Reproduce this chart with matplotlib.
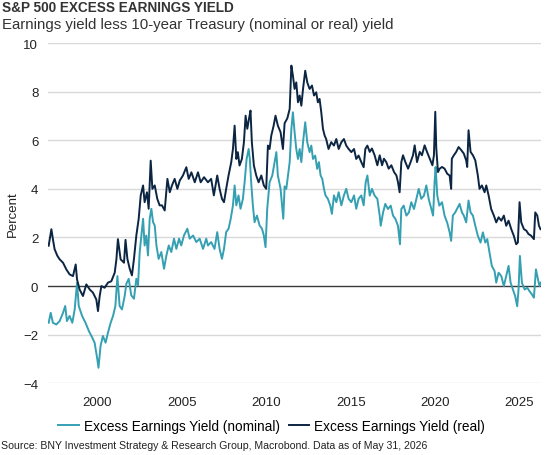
import matplotlib
matplotlib.use("Agg")
import matplotlib.pyplot as plt

plt.rcParams['font.family'] = ['Liberation Sans', 'DejaVu Sans']

# values (year, percent)
real_t = [1997.12, 1997.28, 1997.37, 1997.47, 1997.63, 1997.77, 1997.97, 1998.17, 1998.36, 1998.56,
          1998.72, 1998.80, 1998.95, 1999.15, 1999.35, 1999.55, 1999.74, 1999.94, 2000.04, 2000.14,
          2000.24, 2000.43, 2000.63, 2000.83, 2001.03, 2001.13, 2001.22, 2001.38, 2001.58, 2001.67,
          2001.78, 2001.92, 2002.05, 2002.17, 2002.31, 2002.45, 2002.57, 2002.71, 2002.80, 2002.94,
          2003.04, 2003.16, 2003.26, 2003.40, 2003.55, 2003.69, 2003.83, 2003.99, 2004.15, 2004.29,
          2004.42, 2004.58, 2004.74, 2004.88, 2005.07, 2005.27, 2005.41, 2005.57, 2005.77, 2005.96,
          2006.12, 2006.32, 2006.55, 2006.74, 2006.90, 2007.10, 2007.24, 2007.38, 2007.50, 2007.63,
          2007.77, 2007.93, 2008.03, 2008.13, 2008.23, 2008.32, 2008.42, 2008.56, 2008.68, 2008.78,
          2008.88, 2008.98, 2009.07, 2009.15, 2009.27, 2009.41, 2009.55, 2009.71, 2009.86, 2010.00,
          2010.10, 2010.20, 2010.30, 2010.44, 2010.55, 2010.69, 2010.85, 2010.99, 2011.09, 2011.25,
          2011.39, 2011.49, 2011.58, 2011.68, 2011.78, 2011.88, 2011.98, 2012.08, 2012.18, 2012.31,
          2012.43, 2012.57, 2012.71, 2012.83, 2012.96, 2013.06, 2013.16, 2013.26, 2013.36, 2013.46,
          2013.55, 2013.69, 2013.85, 2014.01, 2014.15, 2014.29, 2014.45, 2014.60, 2014.74, 2014.88,
          2015.04, 2015.20, 2015.33, 2015.47, 2015.63, 2015.77, 2015.87, 2015.99, 2016.13, 2016.26,
          2016.42, 2016.58, 2016.72, 2016.86, 2016.97, 2017.11, 2017.25, 2017.41, 2017.57, 2017.71,
          2017.80, 2017.90, 2018.00, 2018.10, 2018.24, 2018.40, 2018.55, 2018.69, 2018.79, 2018.93,
          2019.09, 2019.22, 2019.38, 2019.52, 2019.68, 2019.84, 2019.93, 2020.01, 2020.07, 2020.17,
          2020.27, 2020.41, 2020.56, 2020.72, 2020.86, 2020.95, 2020.99, 2021.11, 2021.25, 2021.39,
          2021.55, 2021.70, 2021.84, 2021.90, 2021.98, 2022.10, 2022.24, 2022.38, 2022.53, 2022.63,
          2022.77, 2022.93, 2023.03, 2023.17, 2023.32, 2023.48, 2023.62, 2023.76, 2023.92, 2024.07,
          2024.21, 2024.35, 2024.51, 2024.66, 2024.80, 2024.90, 2025.00, 2025.10, 2025.26, 2025.40,
          2025.53, 2025.69, 2025.85, 2025.93, 2026.05, 2026.15, 2026.24]
real_v = [1.66, 2.34, 1.93, 1.52, 1.25, 1.10, 0.96, 0.68, 0.48, 0.41,
          0.89, 0.27, -0.14, -0.41, 0.07, -0.14, -0.27, -0.55, -1.03, -0.41,
          0.00, -0.07, 0.14, 0.20, 0.55, 1.10, 1.93, 1.10, 0.96, 1.90,
          1.12, 0.71, 0.44, 1.12, 2.08, 2.77, 3.73, 4.14, 3.45, 3.86,
          3.18, 5.16, 4.00, 4.14, 3.59, 3.32, 3.32, 3.11, 4.41, 3.86,
          4.14, 4.41, 4.00, 4.34, 4.55, 4.89, 4.41, 4.68, 4.27, 4.68,
          4.27, 4.48, 4.27, 4.41, 3.73, 4.55, 4.00, 3.59, 3.45, 4.00,
          4.55, 5.10, 5.64, 6.60, 5.23, 5.51, 4.96, 5.23, 5.92, 7.01,
          6.47, 6.88, 7.22, 5.92, 4.96, 4.55, 4.27, 4.55, 4.14, 4.00,
          5.78, 5.64, 6.19, 6.60, 7.01, 6.60, 6.33, 5.64, 6.70, 6.90,
          7.29, 9.07, 8.66, 8.11, 8.38, 7.56, 7.84, 7.42, 8.11, 8.86,
          8.38, 8.11, 8.25, 7.84, 7.97, 7.56, 7.70, 7.15, 6.47, 6.19,
          6.05, 5.64, 5.92, 5.78, 6.05, 5.64, 5.92, 6.05, 5.78, 5.64,
          5.51, 5.64, 5.23, 5.37, 5.10, 4.89, 5.64, 5.78, 5.52, 5.66,
          5.38, 4.97, 5.38, 4.97, 5.24, 5.10, 4.83, 4.97, 4.69, 4.55,
          4.28, 3.86, 5.10, 5.38, 5.10, 4.83, 5.10, 5.38, 5.79, 5.10,
          5.52, 5.38, 5.79, 5.52, 5.24, 4.97, 5.38, 7.17, 5.66, 4.69,
          4.83, 4.90, 4.83, 4.62, 4.55, 4.00, 5.24, 5.38, 5.52, 5.72,
          5.59, 5.45, 5.17, 4.90, 6.41, 5.52, 5.38, 5.17, 4.55, 4.00,
          4.14, 3.86, 4.14, 3.72, 3.17, 2.90, 2.62, 2.83, 2.69, 2.90,
          2.48, 2.69, 2.34, 2.07, 1.72, 1.79, 3.45, 2.62, 2.34, 2.28,
          2.14, 2.07, 1.93, 3.03, 2.90, 2.48, 2.34]

nom_t = [1997.12, 1997.24, 1997.37, 1997.57, 1997.77, 1997.97, 1998.10, 1998.20, 1998.36, 1998.52,
         1998.66, 1998.80, 1998.90, 1999.10, 1999.30, 1999.50, 1999.70, 1999.84, 2000.00, 2000.07,
         2000.19, 2000.33, 2000.49, 2000.63, 2000.79, 2000.93, 2001.07, 2001.19, 2001.32, 2001.46,
         2001.62, 2001.72, 2001.86, 2002.01, 2002.17, 2002.31, 2002.41, 2002.51, 2002.61, 2002.71,
         2002.80, 2002.90, 2003.00, 2003.10, 2003.20, 2003.30, 2003.40, 2003.50, 2003.63, 2003.79,
         2003.95, 2004.09, 2004.23, 2004.38, 2004.54, 2004.68, 2004.84, 2004.97, 2005.13, 2005.33,
         2005.47, 2005.67, 2005.86, 2006.06, 2006.26, 2006.45, 2006.55, 2006.74, 2006.94, 2007.10,
         2007.24, 2007.38, 2007.50, 2007.63, 2007.77, 2007.90, 2008.03, 2008.13, 2008.23, 2008.36,
         2008.48, 2008.62, 2008.72, 2008.84, 2008.96, 2009.03, 2009.11, 2009.21, 2009.31, 2009.45,
         2009.61, 2009.75, 2009.86, 2009.96, 2010.06, 2010.20, 2010.36, 2010.50, 2010.60, 2010.69,
         2010.85, 2011.01, 2011.09, 2011.19, 2011.29, 2011.39, 2011.49, 2011.58, 2011.68, 2011.78,
         2011.88, 2011.98, 2012.08, 2012.18, 2012.31, 2012.43, 2012.57, 2012.67, 2012.77, 2012.90,
         2013.02, 2013.12, 2013.22, 2013.32, 2013.42, 2013.51, 2013.65, 2013.79, 2013.89, 2014.01,
         2014.15, 2014.29, 2014.45, 2014.60, 2014.74, 2014.88, 2015.04, 2015.20, 2015.33, 2015.47,
         2015.63, 2015.77, 2015.89, 2015.99, 2016.13, 2016.26, 2016.42, 2016.58, 2016.72, 2016.78,
         2016.92, 2017.05, 2017.21, 2017.37, 2017.51, 2017.65, 2017.80, 2017.92, 2018.00, 2018.14,
         2018.30, 2018.45, 2018.59, 2018.75, 2018.89, 2019.03, 2019.18, 2019.34, 2019.48, 2019.62,
         2019.78, 2019.88, 2019.97, 2020.03, 2020.13, 2020.25, 2020.41, 2020.56, 2020.72, 2020.86,
         2020.95, 2021.05, 2021.19, 2021.35, 2021.45, 2021.59, 2021.70, 2021.84, 2021.98, 2022.10,
         2022.24, 2022.38, 2022.53, 2022.69, 2022.83, 2022.97, 2023.09, 2023.22, 2023.36, 2023.52,
         2023.62, 2023.76, 2023.92, 2024.07, 2024.21, 2024.35, 2024.47, 2024.61, 2024.74, 2024.86,
         2024.94, 2025.02, 2025.14, 2025.30, 2025.46, 2025.59, 2025.73, 2025.85, 2025.97, 2026.09,
         2026.18, 2026.26]
nom_v = [-1.51, -1.10, -1.51, -1.58, -1.44, -1.10, -0.82, -1.44, -1.23, -1.51,
         -0.96, 0.14, -0.82, -1.23, -1.51, -1.85, -2.12, -2.33, -3.01, -3.36,
         -2.47, -2.05, -2.33, -1.92, -1.51, -1.23, -0.82, 0.41, -0.82, -0.96,
         -0.41, 0.10, 0.30, -0.38, -0.52, 0.30, 0.03, 1.40, 2.08, 2.77,
         1.67, 2.08, 1.26, 2.77, 3.18, 2.63, 2.49, 1.67, 1.12, 1.40,
         0.71, 1.26, 1.67, 1.40, 1.95, 1.53, 1.95, 1.67, 2.08, 2.36,
         1.95, 2.08, 1.81, 1.95, 1.53, 1.95, 1.67, 1.81, 1.53, 2.22,
         1.53, 1.12, 1.53, 2.22, 2.36, 2.77, 3.32, 4.14, 3.32, 3.73,
         3.18, 3.59, 4.27, 5.23, 5.64, 5.23, 4.27, 3.32, 2.63, 2.90,
         2.49, 2.36, 2.08, 1.60, 3.18, 4.27, 4.55, 5.10, 5.51, 4.55,
         4.00, 2.77, 4.10, 4.00, 4.55, 5.10, 6.47, 7.15, 6.33, 5.64,
         5.23, 5.64, 5.10, 5.92, 6.74, 5.92, 5.51, 5.78, 5.23, 5.37,
         4.82, 5.10, 4.55, 4.41, 4.00, 3.73, 3.59, 3.32, 2.97, 3.73,
         3.45, 3.86, 3.32, 3.73, 4.00, 3.59, 3.45, 3.73, 3.18, 3.59,
         3.73, 3.32, 4.27, 4.55, 3.72, 4.00, 3.72, 3.59, 2.90, 2.48,
         3.03, 3.38, 3.17, 3.31, 2.90, 2.76, 2.48, 1.72, 3.17, 3.31,
         2.90, 3.03, 3.45, 3.17, 3.59, 4.00, 3.59, 3.72, 4.14, 3.59,
         3.17, 2.90, 4.28, 4.90, 3.72, 3.31, 3.45, 2.90, 2.60, 2.21,
         1.86, 2.90, 3.03, 3.24, 3.38, 3.03, 2.90, 2.62, 3.52, 3.03,
         2.90, 2.48, 2.07, 1.79, 2.21, 1.79, 1.93, 1.38, 0.83, 0.62,
         0.14, 0.55, 0.41, 0.00, 0.41, 0.83, 0.14, -0.14, -0.41, -0.83,
         -0.14, 1.24, 0.14, -0.14, -0.07, -0.21, -0.34, -0.48, 0.69, 0.28,
         0.00, 0.14]

years = [2000, 2005, 2010, 2015, 2020, 2025]
yticks = [-4, -2, 0, 2, 4, 6, 8, 10]

teal = '#34a0b2'
navy = '#0b2542'

fig = plt.figure(figsize=(5.47, 4.56), dpi=100)
ax = fig.add_axes([48/547, 1 - 384.3/456, 493/547, 340.3/456])

for v in yticks:
    if v == 0:
        ax.axhline(v, color='#3a3a3a', lw=1.0, zorder=1)
    else:
        ax.axhline(v, color='#d9d9d9', lw=1.0, zorder=0)

ax.plot(nom_t, nom_v, color=teal, lw=1.4, label='Excess Earnings Yield (nominal)', zorder=2)
ax.plot(real_t, real_v, color=navy, lw=1.4, label='Excess Earnings Yield (real)', zorder=3)

ax.set_xlim(1997.08, 2026.27)
ax.set_ylim(-4, 10)
ax.set_xticks(years)
ax.set_yticks(yticks)
ax.tick_params(length=0, labelsize=9.5, colors='#222222')
ax.tick_params(axis='y', pad=7)
ax.tick_params(axis='x', pad=9)
for s in ax.spines.values():
    s.set_visible(False)
ax.set_ylabel('Percent', fontsize=9.5, color='#222222')
ax.yaxis.set_label_coords(-0.06, 0.5)

fig.text(0.004, 1 - 8/456, 'S&P 500 EXCESS EARNINGS YIELD', fontsize=9.8, fontweight='bold',
         color='#333333', va='center', ha='left')
fig.text(0.004, 1 - 25/456, 'Earnings yield less 10-year Treasury (nominal or real) yield',
         fontsize=10.8, color='#333333', va='center', ha='left')

fig.legend(loc='center', bbox_to_anchor=(0.497, 1 - 427/456), ncol=2, frameon=False,
           fontsize=9.8, handlelength=1.5, handletextpad=0.4, columnspacing=0.6)

fig.text(0.002, 1 - 446/456, 'Source: BNY Investment Strategy & Research Group, Macrobond. Data as of May 31, 2026',
         fontsize=7.6, color='#222222', va='center', ha='left')

fig.savefig('out.png', dpi=100)
